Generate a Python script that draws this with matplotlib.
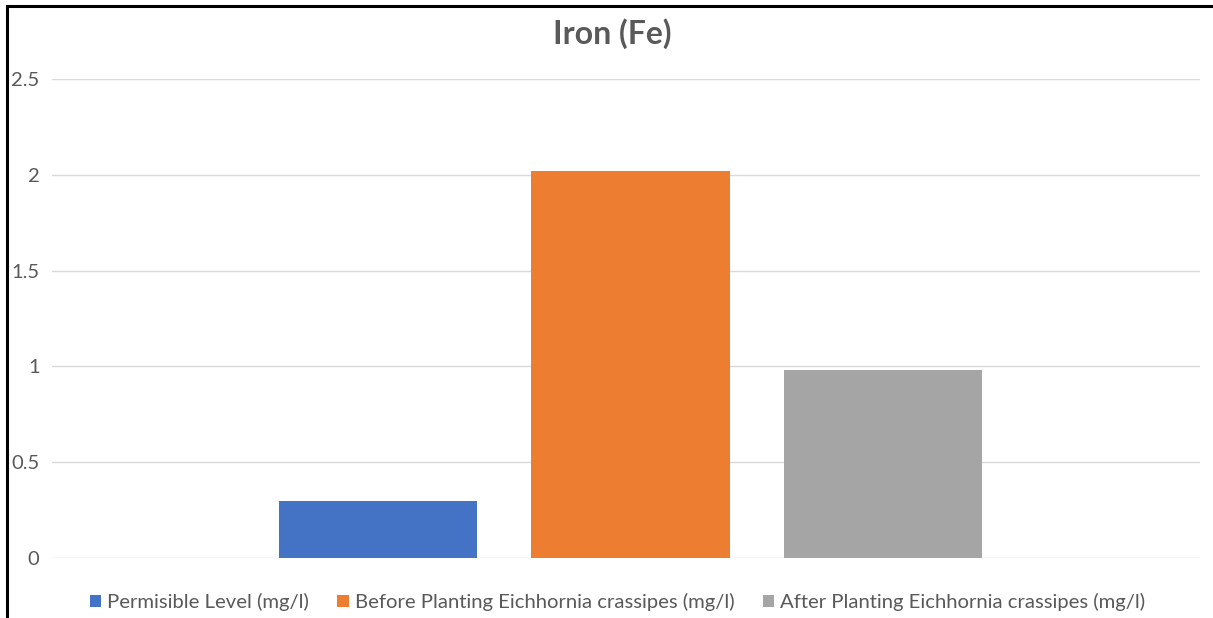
import numpy as np
import matplotlib
matplotlib.use("Agg")
from matplotlib import pyplot as plt
from matplotlib.lines import Line2D

# series for the single category
series_names = [
    "Permisible Level (mg/l)",
    "Before Planting Eichhornia crassipes (mg/l)",
    "After Planting Eichhornia crassipes (mg/l)",
]
series_values = [0.3, 2.02, 0.98]
series_colors = ["#4472C4", "#ED7D31", "#A5A5A5"]
y_ticks = [0, 0.5, 1, 1.5, 2, 2.5]
y_tick_labels = ["0", "0.5", "1", "1.5", "2", "2.5"]

plt.rcParams["font.family"] = ["Lato", "DejaVu Sans"]
text_gray = "#595959"

fig = plt.figure(figsize=(12.13, 6.18), dpi=100)
ax = fig.add_axes([0.0429, 0.0971, 0.9464, 0.7751])

offsets = np.array([-0.22, 0.0, 0.22])
bar_w = 0.173
for off, val, col, name in zip(offsets, series_values, series_colors, series_names):
    ax.bar(off + 0.004, val, width=bar_w, color=col, label=name, zorder=3)

ax.set_xlim(-0.5, 0.5)
ax.set_ylim(0, 2.5)
ax.set_yticks(y_ticks)
ax.set_yticklabels(y_tick_labels)
ax.set_xticks([])
ax.grid(axis="y", color="#D9D9D9", linewidth=1.0, zorder=0)
ax.tick_params(axis="y", length=0, pad=9, labelsize=14.5, labelcolor=text_gray)
for s in ax.spines.values():
    s.set_visible(False)

fig.text(0.505, 0.945, "Iron (Fe)", ha="center", va="center",
         fontsize=23, fontweight="bold", color=text_gray)

leg = fig.legend(loc="center", bbox_to_anchor=(0.509, 0.026), ncol=3, frameon=False,
                 fontsize=14.6, handlelength=0.55, handleheight=0.55,
                 handletextpad=0.3, columnspacing=1.4)
for t in leg.get_texts():
    t.set_color(text_gray)

# outer frame (top and left edges)
fig.add_artist(Line2D([0.0058, 0.0058], [0.0, 0.9895], transform=fig.transFigure,
                      color="black", linewidth=2.2))
fig.add_artist(Line2D([0.0058, 1.0], [0.9895, 0.9895], transform=fig.transFigure,
                      color="black", linewidth=2.2))

fig.savefig("out.png", dpi=100, facecolor="white")
